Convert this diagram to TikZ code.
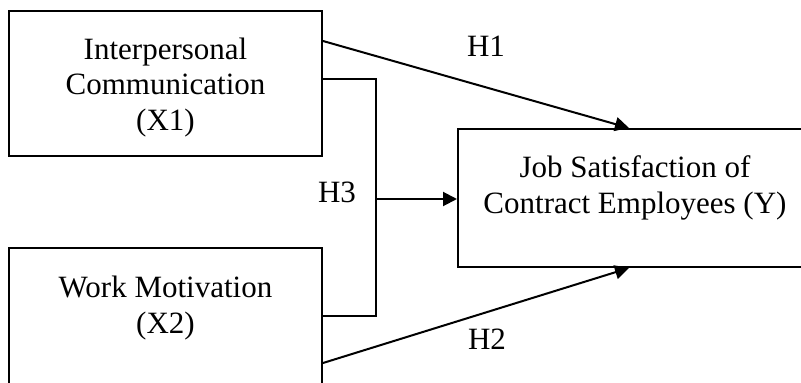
\documentclass[tikz,border=0pt]{standalone}
\usepackage{fontspec}
\setmainfont{Liberation Serif}
\usetikzlibrary{arrows.meta,calc}
\begin{document}
\begin{tikzpicture}[x=1pt,y=-1pt,
  box/.style={draw,line width=2pt,rectangle,inner sep=0pt},
  lbl/.style={font=\fontsize{31}{35.5}\selectfont,align=center,anchor=base,inner sep=0pt},
  conn/.style={line width=2pt},
  arr/.style={line width=2pt,-{Triangle[length=14pt,width=14pt]}}]
\useasboundingbox (0,0) rectangle (801,383);
\clip (0,0) rectangle (801,383);
% boxes
\node[box,minimum width=313pt,minimum height=145pt] (X1) at (165.5,83.5) {};
\node[box,minimum width=313pt,minimum height=200pt] (X2) at (165.5,348) {};
\node[box,minimum width=380pt,minimum height=138pt] (Y) at (648,198) {};
% texts
\node[lbl] (tX1) at (165.5,130) {Interpersonal\\Communication\\(X1)};
\node[lbl] (tX2) at (165.5,333) {Work Motivation\\(X2)};
\node[lbl] (tY) at (635,213) {Job Satisfaction of\\Contract Employees (Y)};
\node[lbl] (h1) at (486,56) {H1};
\node[lbl] (h2) at (487,349) {H2};
\node[lbl] (h3) at (337,202) {H3};
% connectors
\coordinate (j) at (376,199);
\draw[arr] ($(X1.north east)+(0,31)$) -- ($(Y.north west)+(172,0)$);
\draw[arr] ($(X2.north east)+(0,116)$) -- ($(Y.south west)+(172,0)$);
\draw[conn] ($(X1.north east)+(0,69)$) -| (j) |- ($(X2.north east)+(0,69)$);
\draw[arr] (j) -- (Y.west |- j);
\end{tikzpicture}
\end{document}
